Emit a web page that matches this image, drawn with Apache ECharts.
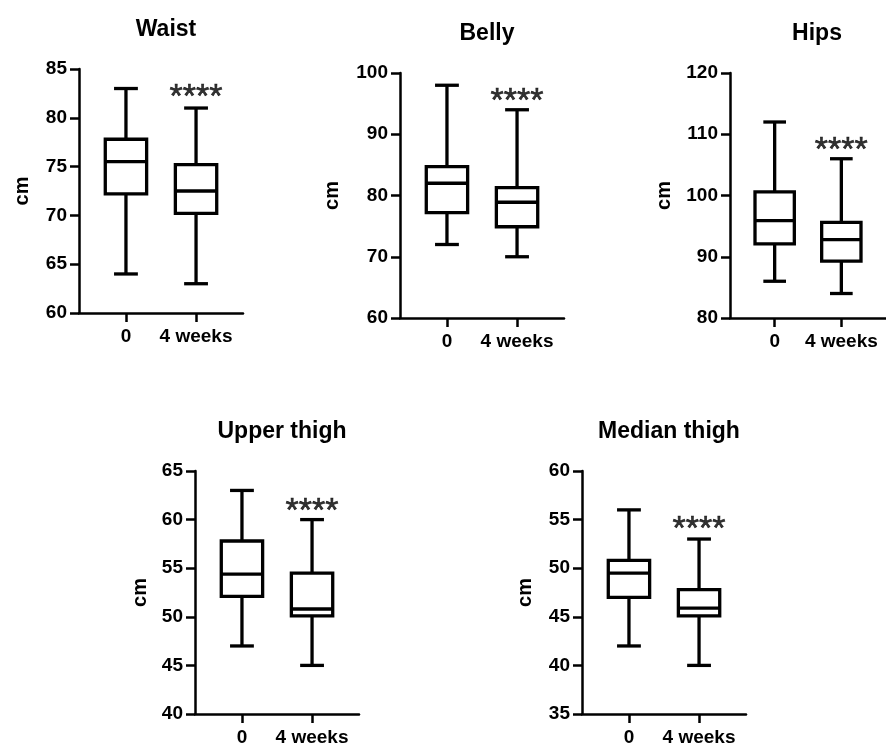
<!DOCTYPE html>
<html>
<head>
<meta charset="utf-8">
<script src="https://cdn.jsdelivr.net/npm/echarts@6/dist/echarts.min.js"></script>
<style>
html,body{margin:0;padding:0;background:#fff;}
#c{width:886px;height:747px;}
</style>
</head>
<body>
<div id="c"></div>
<script>
// ---- data ----
const categories = ['0', '4 weeks'];
const panelTitles = ['Waist', 'Belly', 'Hips', 'Upper thigh', 'Median thigh'];
// [min, Q1, median, Q3, max] for "0" and "4 weeks"
const waistStats = [[64, 72.2, 75.5, 77.8, 83], [63, 70.2, 72.5, 75.2, 81]];
const bellyStats = [[72, 77.2, 82, 84.7, 98], [70, 74.9, 78.9, 81.3, 94]];
const hipsStats = [[86, 92.1, 95.9, 100.6, 112], [84, 89.3, 92.8, 95.6, 106]];
const upperThighStats = [[47, 52.1, 54.4, 57.8, 63], [45, 50.1, 50.8, 54.5, 60]];
const medianThighStats = [[42, 47.0, 49.5, 50.8, 56], [40, 45.1, 45.9, 47.8, 53]];
// significance marker position (value axis) over "4 weeks"
const starLevels = [82.6, 96.1, 108.2, 61.3, 54.5];
const starText = '****';
// y-axis tick settings per panel
const yMins = [60, 60, 80, 40, 35];
const yMaxs = [85, 100, 120, 65, 60];
const yIntervals = [5, 10, 10, 5, 5];
const yName = 'cm';

const allStats = [waistStats, bellyStats, hipsStats, upperThighStats, medianThighStats];

// ---- layout (styling only) ----
const gridLayout = [
  {left: 79, top: 69, width: 164, height: 244},
  {left: 400, top: 73, width: 164, height: 245},
  {left: 730, top: 73, width: 164, height: 245},
  {left: 195, top: 471, width: 164, height: 244},
  {left: 582, top: 471, width: 164, height: 245}
];
const nameGaps = [47, 58, 56, 45, 47];
const FONT = '"Liberation Sans", Arial, Helvetica, sans-serif';
const BOX_HALF = 0.295;
const CAP_HALF = 0.17;
const LW = 3.3;

const grids = [], xAxes = [], yAxes = [], series = [], titles = [];
allStats.forEach((stats, i) => {
  const g = gridLayout[i];
  grids.push({left: g.left, top: g.top, width: g.width, height: g.height, containLabel: false});
  titles.push({
    text: panelTitles[i], left: g.left + g.width / 2, textAlign: 'center', top: g.top - 56,
    textStyle: {fontFamily: FONT, fontWeight: 'bold', fontSize: 23, color: '#000'}
  });
  xAxes.push({
    type: 'value', gridIndex: i, min: -0.67, max: 1.67,
    splitLine: {show: false},
    axisLine: {show: true, onZero: false, lineStyle: {color: '#000', width: 2.5}},
    axisTick: {show: true, length: 9, lineStyle: {color: '#000', width: 2.5}, customValues: [0, 1]},
    axisLabel: {
      show: true, customValues: [0, 1], margin: 14,
      formatter: v => categories[Math.round(v)] || '',
      fontFamily: FONT, fontWeight: 'bold', fontSize: 19, color: '#000'
    }
  });
  yAxes.push({
    type: 'value', gridIndex: i, min: yMins[i], max: yMaxs[i], interval: yIntervals[i],
    splitLine: {show: false},
    axisLine: {show: true, onZero: false, lineStyle: {color: '#000', width: 2.5}},
    axisTick: {show: true, length: 9, lineStyle: {color: '#000', width: 2.5}},
    axisLabel: {margin: 12, fontFamily: FONT, fontWeight: 'bold', fontSize: 19, color: '#000'},
    name: yName, nameLocation: 'middle', nameRotate: 90, nameGap: nameGaps[i],
    nameTextStyle: {fontFamily: FONT, fontWeight: 'bold', fontSize: 20, color: '#000'}
  });
  series.push({
    type: 'custom', xAxisIndex: i, yAxisIndex: i,
    data: stats.map((s, k) => [k].concat(s)),
    encode: {x: 0, y: [1, 2, 3, 4, 5]},
    renderItem: function (params, api) {
      const x = api.value(0);
      const mn = api.value(1), q1 = api.value(2), md = api.value(3), q3 = api.value(4), mx = api.value(5);
      const pMin = api.coord([x, mn]), pQ1 = api.coord([x, q1]), pMd = api.coord([x, md]);
      const pQ3 = api.coord([x, q3]), pMax = api.coord([x, mx]);
      const bl = api.coord([x - BOX_HALF, md])[0], br = api.coord([x + BOX_HALF, md])[0];
      const cl = api.coord([x - CAP_HALF, md])[0], cr = api.coord([x + CAP_HALF, md])[0];
      const ls = {stroke: '#000', lineWidth: LW, fill: null};
      return {
        type: 'group',
        children: [
          {type: 'line', shape: {x1: pMin[0], y1: pMin[1], x2: pQ1[0], y2: pQ1[1]}, style: ls},
          {type: 'line', shape: {x1: pQ3[0], y1: pQ3[1], x2: pMax[0], y2: pMax[1]}, style: ls},
          {type: 'line', shape: {x1: cl, y1: pMin[1], x2: cr, y2: pMin[1]}, style: ls},
          {type: 'line', shape: {x1: cl, y1: pMax[1], x2: cr, y2: pMax[1]}, style: ls},
          {type: 'rect', shape: {x: bl, y: pQ3[1], width: br - bl, height: pQ1[1] - pQ3[1]},
            style: {stroke: '#000', lineWidth: LW, fill: '#fff'}},
          {type: 'line', shape: {x1: bl, y1: pMd[1], x2: br, y2: pMd[1]}, style: ls}
        ]
      };
    }
  });
  series.push({
    type: 'scatter', xAxisIndex: i, yAxisIndex: i, symbolSize: 0, silent: true,
    data: [[1, starLevels[i]]],
    label: {
      show: true, position: 'inside', formatter: starText, offset: [0, 5],
      fontFamily: FONT, fontSize: 34, color: '#000', fontWeight: 'normal',
      textBorderColor: '#000', textBorderWidth: 0.6
    }
  });
});

const chart = echarts.init(document.getElementById('c'), null, {renderer: 'canvas'});
chart.setOption({
  backgroundColor: '#fff',
  animation: false,
  title: titles,
  grid: grids,
  xAxis: xAxes,
  yAxis: yAxes,
  series: series
});
</script>
</body>
</html>
